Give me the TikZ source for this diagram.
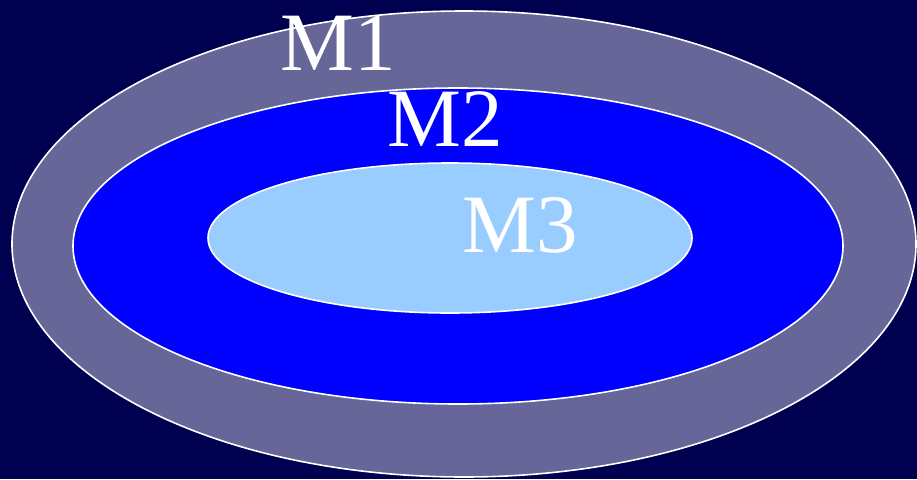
\documentclass[tikz,border=0pt]{standalone}
\usepackage{fontspec}
\setmainfont{Liberation Serif}
\usetikzlibrary{shapes.geometric}
\definecolor{navy}{HTML}{000050}
\definecolor{slate}{HTML}{666699}
\definecolor{pureblue}{HTML}{0000FF}
\definecolor{skyblue}{HTML}{99CCFF}

\begin{document}
\begin{tikzpicture}[
  x=1pt, y=-1pt,
  ring/.style={ellipse, draw=white, line width=1.6pt, inner sep=0pt},
  label/.style={text=white, anchor=base, inner sep=0pt,
    font=\fontsize{83}{83}\selectfont}
]
\fill[navy] (0,0) rectangle (917,479);
\useasboundingbox (0,0) rectangle (917,479);

\node[ring, fill=slate, minimum width=904pt, minimum height=466pt] (outer) at (464,244) {};
\node[ring, fill=pureblue, minimum width=770pt, minimum height=316pt] (middle) at (458,246) {};
\node[ring, fill=skyblue, minimum width=484pt, minimum height=150pt] (inner) at (450,238) {};

\node[label] (m1) at (338.5,70) {M1};
\node[label] (m2) at (445,146) {M2};
\node[label] (m3) at (520,252) {M3};
\end{tikzpicture}
\end{document}
